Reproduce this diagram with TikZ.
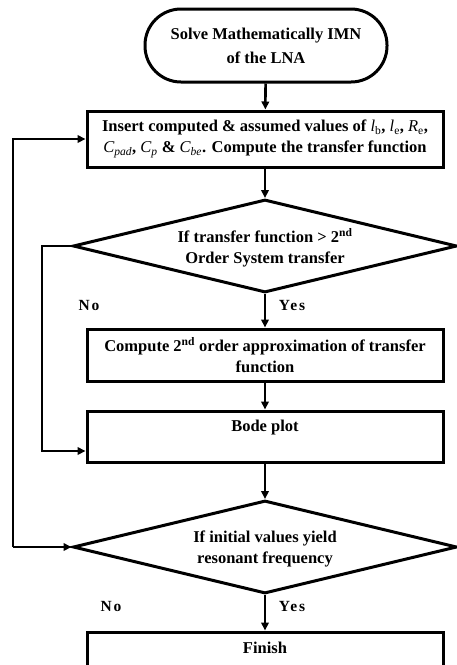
\documentclass[tikz,border=0pt]{standalone}
\usepackage{fontspec}
\setmainfont{Liberation Serif}
\usetikzlibrary{arrows.meta,shapes.geometric}
\newcommand\vru[2]{{\normalfont\itshape #1}\textsubscript{\normalfont #2}}
\newcommand\vit[2]{{\normalfont\itshape #1}\textsubscript{\normalfont\itshape #2}}
\begin{document}
\begin{tikzpicture}[x=1pt,y=-1pt,
  every node/.style={font=\fontsize{16.5}{21}\selectfont\bfseries, align=center},
  procbox/.style={draw, line width=3pt, minimum width=356pt, inner sep=0pt},
  startbox/.style={draw, line width=3pt, rounded corners=36pt, minimum width=242pt, minimum height=73pt, inner sep=0pt},
  decision/.style={draw, diamond, line width=3pt, minimum width=384pt, minimum height=93pt, inner sep=0pt, shape aspect=4.13},
  yn/.style={font=\fontsize{15.5}{18}\selectfont\bfseries\addfontfeature{LetterSpace=12}},
  arr/.style={line width=2.6pt, -{Triangle[length=8pt,width=7.5pt]}},
  link/.style={line width=2.6pt}
]
\useasboundingbox (0,0) rectangle (457,665);
\clip (0,0) rectangle (457,665);
\fill[white] (0,0) rectangle (457,665);

\node[startbox] (start) at (266,45.5) {Solve Mathematically IMN\\[3pt]of the LNA};
\node[procbox, minimum height=56pt] (box1) at (265,139) {Insert computed \& assumed values of \vru{l}{b}, \vru{l}{e}, \vru{R}{e},\\ \vit{C}{pad}, \vit{C}{p} \& \vit{C}{be}. Compute the transfer function};
\node[decision] (d1) at (265,246) {};
\node at (265,248) {If transfer function > 2\textsuperscript{nd}\\Order System transfer};
\node[procbox, minimum height=52pt] (box2) at (265,355) {Compute 2\textsuperscript{nd} order approximation of transfer\\ function};
\node[procbox, minimum height=51pt] (box3) at (265,436.5) {Bode plot\\[0pt]~};
\node[decision] (d2) at (265,547) {};
\node at (265,549) {If initial values yield\\resonant frequency};
\node[procbox, minimum height=52pt] (fin) at (265,658) {Finish\\[0pt]~};

\node[yn] (no1) at (89,305) {No};
\node[yn] (yes1) at (292,305) {Yes};
\node[yn] (no2) at (111,606) {No};
\node[yn] (yes2) at (292,606) {Yes};

\draw[arr] (start) -- (box1);
\draw[arr] (box1) -- (d1.north);
\draw[arr] (d1.south) -- (box2);
\draw[arr] (box2) -- (box3);
\draw[arr] (box3) -- (d2.north);
\draw[arr] (d2.south) -- (fin);

\coordinate (nl) at (42,451);
\draw[arr] (d1.west) -| (nl) -- (nl -| box3.west);

\coordinate (ol) at (13,547);
\draw[arr] (ol) -- (d2.west);
\draw[arr] (ol) |- (box1.west);
\end{tikzpicture}
\end{document}
